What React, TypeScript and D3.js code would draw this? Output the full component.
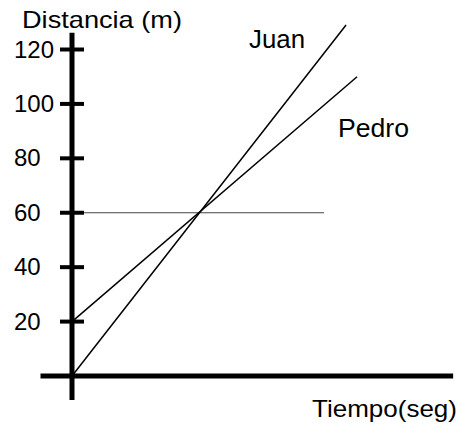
import * as d3 from "d3";

const width = 464;
const height = 425;

// valores
const yTicks = [20, 40, 60, 80, 100, 120];
const juanT = [0, 8.7];
const juanD = [0, 129];
const pedroT = [0, 9.05];
const pedroD = [20, 110];
const refT = [0, 8];
const refD = [60, 60];

const font = "'Liberation Sans', Arial, sans-serif";

const x = d3.scaleLinear().domain([0, 12]).range([72, 450]);
const y = d3.scaleLinear().domain([0, 120]).range([376, 49.5]);

const line = d3
  .line<[number, number]>()
  .x((d) => x(d[0]))
  .y((d) => y(d[1]));

const pts = (t: number[], v: number[]) =>
  t.map((d, i) => [d, v[i]] as [number, number]);

const App = () => {
  return (
    <svg
      width={width}
      height={height}
      style={{ position: "absolute", left: 0, top: 0, background: "#fff" }}
      fontFamily={font}
    >
      {/* linea horizontal de 60 m */}
      <path d={line(pts(refT, refD)) ?? ""} stroke="#444" strokeWidth={1} fill="none" />
      {/* series */}
      <path d={line(pts(juanT, juanD)) ?? ""} stroke="#000" strokeWidth={1.5} fill="none" />
      <path d={line(pts(pedroT, pedroD)) ?? ""} stroke="#000" strokeWidth={1.5} fill="none" />

      {/* ejes */}
      <line x1={x(-1)} x2={x(12.1)} y1={y(0)} y2={y(0)} stroke="#000" strokeWidth={5} />
      <line x1={x(0)} x2={x(0)} y1={y(0) + 24} y2={y(126.2)} stroke="#000" strokeWidth={5} />
      {yTicks.map((t) => (
        <g key={t}>
          <line x1={x(0) - 12} x2={x(0) + 12} y1={y(t)} y2={y(t)} stroke="#000" strokeWidth={4} />
          <text x={14} y={y(t) + 8} fontSize={24} fill="#000">
            {t}
          </text>
        </g>
      ))}

      <text x={22} y={28} fontSize={24} textLength={160} lengthAdjust="spacingAndGlyphs">
        Distancia (m)
      </text>
      <text x={312} y={417} fontSize={24} textLength={145} lengthAdjust="spacingAndGlyphs">
        Tiempo(seg)
      </text>
      <text x={249} y={48} fontSize={25} textLength={56} lengthAdjust="spacingAndGlyphs">
        Juan
      </text>
      <text x={338} y={137} fontSize={25} textLength={71} lengthAdjust="spacingAndGlyphs">
        Pedro
      </text>
    </svg>
  );
};

export default App;
